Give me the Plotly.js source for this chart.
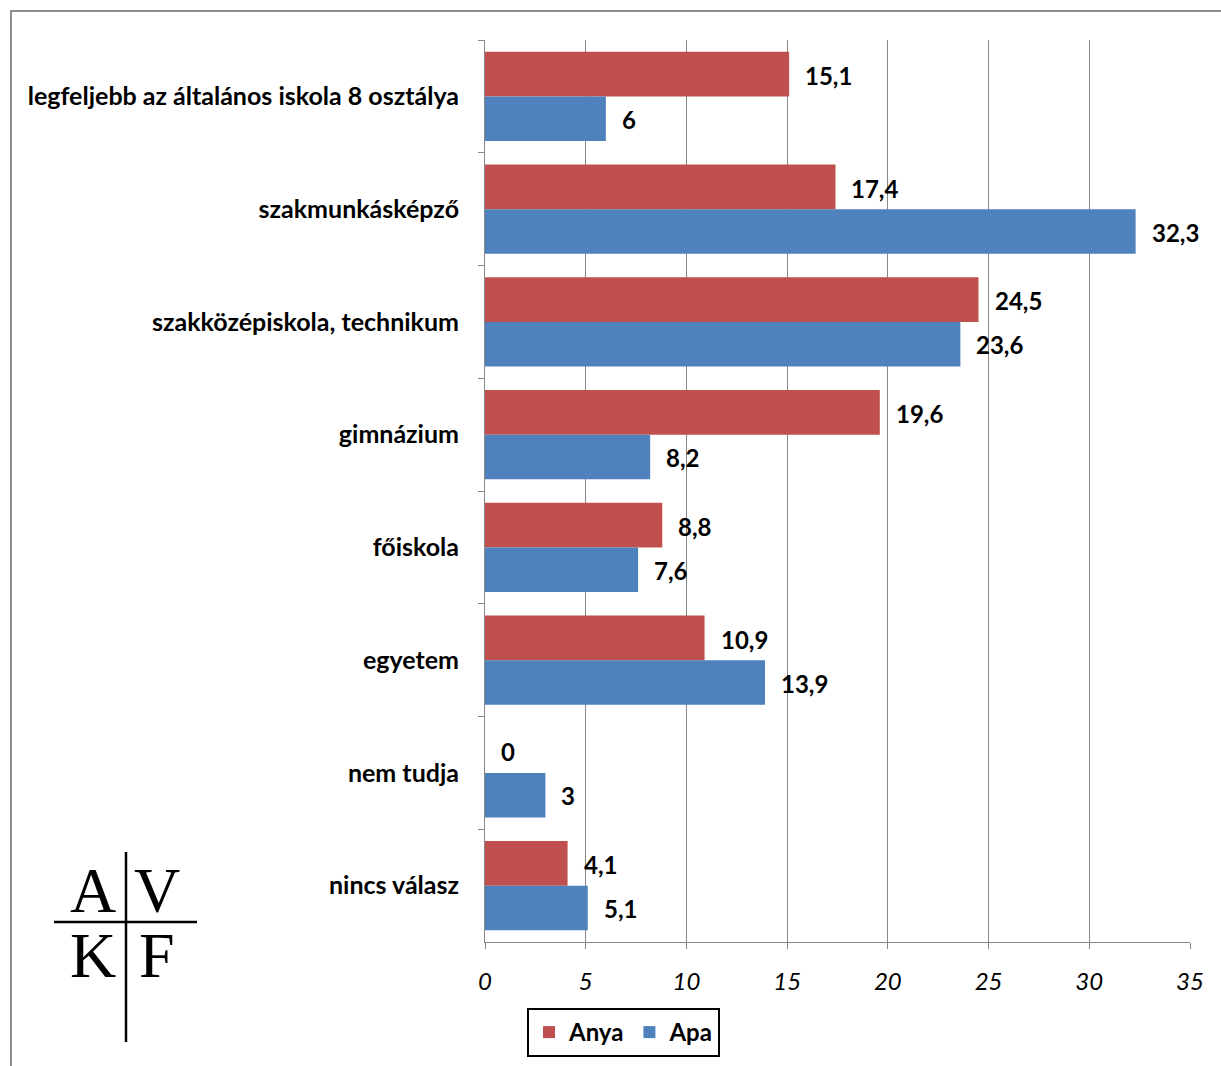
<!DOCTYPE html>
<html>
<head>
<meta charset="utf-8">
<script src="https://cdn.plot.ly/plotly-3.0.1.min.js"></script>
<style>
html,body{margin:0;padding:0;background:#fff;}
#chart{width:1221px;height:1066px;}
</style>
</head>
<body>
<div id="chart"></div>
<script>
const categories = [
  "legfeljebb az általános iskola 8 osztálya",
  "szakmunkásképző",
  "szakközépiskola, technikum",
  "gimnázium",
  "főiskola",
  "egyetem",
  "nem tudja",
  "nincs válasz"
];
const anya = [15.1, 17.4, 24.5, 19.6, 8.8, 10.9, 0, 4.1];
const apa = [6, 32.3, 23.6, 8.2, 7.6, 13.9, 3, 5.1];
const seriesNames = ["Anya", "Apa"];
const xTicks = [0, 5, 10, 15, 20, 25, 30, 35];

const colors = ["#C0504D", "#4F81BD"];
const W = 1221, H = 1066;
const L = 485, R = 1190, T = 40, B = 942;
const px2x = p => (p - L) / (R - L);
const py2y = p => (B - p) / (B - T);
const fmt = v => String(v).replace('.', ',');
const FONT = "Lato, 'Open Sans', sans-serif";

const traces = [anya, apa].map((vals, i) => ({
  type: "bar",
  orientation: "h",
  name: seriesNames[i],
  y: categories,
  x: vals,
  marker: {color: colors[i]},
  hoverinfo: "x"
}));

const annotations = [];
[anya, apa].forEach((vals, i) => {
  vals.forEach((v, j) => {
    annotations.push({
      x: v, y: categories[j], xref: "x", yref: "y",
      text: fmt(v), showarrow: false,
      xanchor: "left", yanchor: "middle",
      xshift: 14, yshift: i === 0 ? 21 : -23,
      font: {family: FONT, size: 24, color: "#000", weight: "bold"}
    });
  });
});

// logo letters
const logo = [["A", 93, 890], ["V", 157, 890], ["K", 93, 955], ["F", 157, 955]];
logo.forEach(([t, x, y]) => annotations.push({
  x: px2x(x), y: py2y(y), xref: "paper", yref: "paper",
  text: t, showarrow: false, xanchor: "center", yanchor: "middle",
  font: {family: "'Liberation Serif', 'DejaVu Serif', serif", size: 64, color: "#000"}
}));

const shapes = [
  {type: "path", xref: "paper", yref: "paper",
   path: `M ${px2x(11)} ${py2y(1080)} L ${px2x(11)} ${py2y(11)} L ${px2x(1240)} ${py2y(11)}`,
   line: {color: "#8c8c8c", width: 2}},
  {type: "line", xref: "paper", yref: "paper",
   x0: px2x(126), x1: px2x(126), y0: py2y(852), y1: py2y(1042),
   line: {color: "#000", width: 2.5}},
  {type: "line", xref: "paper", yref: "paper",
   x0: px2x(54), x1: px2x(197), y0: py2y(922), y1: py2y(922),
   line: {color: "#000", width: 2.5}}
];

const layout = {
  width: W, height: H,
  margin: {l: L, r: W - R, t: T, b: H - B, pad: 0, autoexpand: false},
  paper_bgcolor: "#fff", plot_bgcolor: "#fff",
  barmode: "group",
  bargap: 0.21,
  bargroupgap: 0,
  showlegend: true,
  legend: {
    orientation: "h",
    x: px2x(527), y: py2y(1008), xanchor: "left", yanchor: "top",
    bordercolor: "#000", borderwidth: 2, bgcolor: "#fff",
    font: {family: FONT, size: 24, color: "#000", weight: "bold"},
    itemwidth: 30
  },
  xaxis: {
    range: [0, 35],
    tickvals: xTicks,
    ticktext: xTicks.map(String),
    showgrid: true, gridcolor: "#878787", gridwidth: 1,
    zeroline: false,
    showline: true, linecolor: "#878787", linewidth: 1,
    ticks: "outside", ticklen: 6, tickcolor: "#878787",
    tickfont: {family: FONT, size: 24, color: "#000", style: "italic"},
    ticklabelstandoff: 12,
    fixedrange: true
  },
  yaxis: {
    type: "category",
    autorange: "reversed",
    showgrid: false,
    showline: true, linecolor: "#878787", linewidth: 1,
    ticks: "outside", ticklen: 6, tickcolor: "#878787",
    tickson: "boundaries",
    tickfont: {family: FONT, size: 25, color: "#000", weight: "bold"},
    ticklabelstandoff: 20,
    fixedrange: true
  },
  annotations: annotations,
  shapes: shapes
};

Plotly.newPlot("chart", traces, layout, {displayModeBar: false, staticPlot: true});
</script>
</body>
</html>
